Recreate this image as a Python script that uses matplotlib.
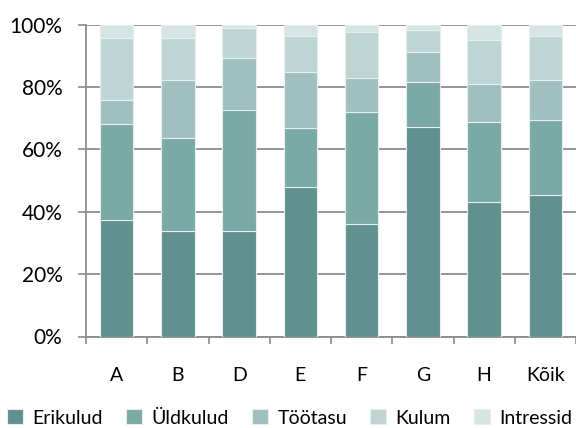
import numpy as np
import matplotlib.pyplot as plt
from matplotlib.ticker import FuncFormatter

plt.rcParams['font.family'] = ['Lato', 'DejaVu Sans']

categories = ['A', 'B', 'D', 'E', 'F', 'G', 'H', 'Kõik']
series_names = ['Erikulud', 'Üldkulud', 'Töötasu', 'Kulum', 'Intressid']

# segment sizes (%)
erikulud = [37.5, 33.8, 33.8, 48.0, 36.2, 67.3, 43.0, 45.5]
uldkulud = [30.5, 29.8, 38.8, 18.7, 35.7, 14.3, 25.7, 24.0]
tootasu = [7.8, 18.6, 16.6, 18.0, 10.8, 9.6, 12.2, 12.7]
kulum = [19.8, 13.5, 9.8, 11.5, 14.8, 7.0, 14.1, 14.0]
intressid = [4.4, 4.3, 1.0, 3.8, 2.5, 1.8, 5.0, 3.8]

colors = ['#60918f', '#7ba9a6', '#a0c0bf', '#bfd5d3', '#d6e5e4']

fig = plt.figure(figsize=(5.76, 4.28), dpi=100)
ax = fig.add_axes([86/576, 1-336.5/428, 490/576, (336.5-24.5)/428])

x = np.arange(len(categories))
bottom = np.zeros(len(categories))
handles = []
for name, vals, c in zip(series_names, [erikulud, uldkulud, tootasu, kulum, intressid], colors):
    b = ax.bar(x, vals, 0.55, bottom=bottom, color=c, edgecolor='#e6efee', linewidth=0.8, label=name, zorder=3)
    handles.append(b)
    bottom += np.array(vals)

ax.set_xlim(-0.5, len(categories)-0.5)
ax.set_ylim(0, 100)
ax.set_yticks([0, 20, 40, 60, 80, 100])
ax.yaxis.set_major_formatter(FuncFormatter(lambda v, p: '%d%%' % v))
ax.grid(axis='y', color='#8c8c8c', linewidth=1.3, zorder=0)
ax.set_axisbelow(True)

ax.set_xticks(x)
ax.set_xticklabels(categories)
ax.set_xticks(np.arange(len(categories)+1)-0.5, minor=True)
ax.tick_params(axis='x', which='major', length=0, pad=22, labelsize=14)
ax.tick_params(axis='x', which='minor', length=5, width=1.2, color='#8c8c8c')
ax.tick_params(axis='y', length=6, width=1.2, color='#8c8c8c', pad=11, labelsize=15)

for s in ['top', 'right']:
    ax.spines[s].set_visible(False)
for s in ['left', 'bottom']:
    ax.spines[s].set_color('#8c8c8c')
    ax.spines[s].set_linewidth(1.3)

fig.legend(handles=handles, loc='center', bbox_to_anchor=(0.503, 1-418/428), ncol=5, frameon=False,
           fontsize=14, handlelength=0.8, handleheight=0.8, handletextpad=0.5, columnspacing=1.2,
           borderaxespad=0)

fig.savefig('out.png', dpi=100)
